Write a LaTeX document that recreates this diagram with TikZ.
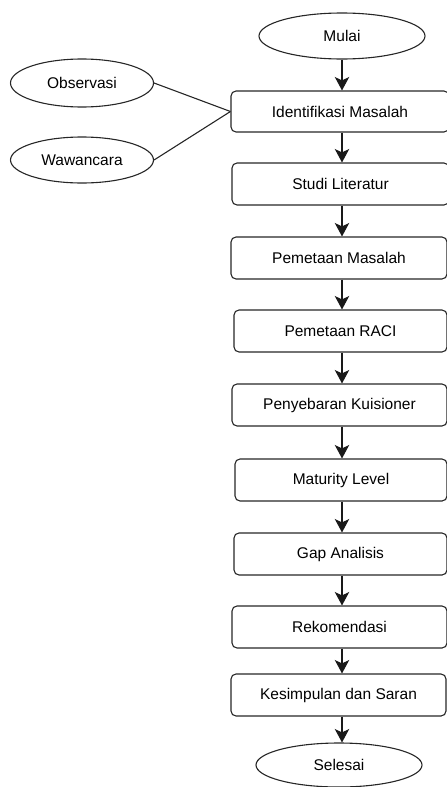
\documentclass[tikz,border=0pt]{standalone}
\usepackage{fontspec}
\setmainfont{Liberation Sans}
\usetikzlibrary{shapes.geometric,arrows.meta}
\begin{document}
\begin{tikzpicture}[x=1pt,y=-1pt,
  ln/.style={draw=black!85, line width=1.1pt},
  procbox/.style={ln, rectangle, rounded corners=5pt, inner sep=0pt, font=\fontsize{15.5}{18}\selectfont},
  term/.style={ln, ellipse, inner sep=0pt, font=\fontsize{15.5}{18}\selectfont},
  arr/.style={draw=black!90, line width=1.1pt, -{Stealth[length=13.5pt,width=14.5pt,inset=3.5pt]}},
  conn/.style={draw=black!85, line width=1.1pt}
]
\useasboundingbox (0,0) rectangle (447,787);
\coordinate (col) at (342,0);
\node[term, minimum width=166, minimum height=46] (mulai) at (342,36) {Mulai};
\node[procbox, minimum width=218, minimum height=41] (ident) at (340,111.5) {Identifikasi Masalah};
\node[procbox, minimum width=217, minimum height=42] (studi) at (340.5,184) {Studi Literatur};
\node[procbox, minimum width=216, minimum height=42] (pmas) at (339,258) {Pemetaan Masalah};
\node[procbox, minimum width=213, minimum height=42] (raci) at (340.5,331) {Pemetaan RACI};
\node[procbox, minimum width=215, minimum height=42] (peny) at (339.5,405) {Penyebaran Kuisioner};
\node[procbox, minimum width=212, minimum height=42] (mat) at (341,480) {Maturity Level};
\node[procbox, minimum width=213, minimum height=42] (gap) at (340.5,554) {Gap Analisis};
\node[procbox, minimum width=215, minimum height=42] (rek) at (339.5,627) {Rekomendasi};
\node[procbox, minimum width=215, minimum height=42] (kes) at (338.5,695) {Kesimpulan dan Saran};
\node[term, minimum width=166, minimum height=44] (sel) at (339,765) {Selesai};
\node[term, minimum width=143, minimum height=48] (obs) at (82,83) {Observasi};
\node[term, minimum width=143, minimum height=46] (waw) at (82,160) {Wawancara};
\draw[conn] (obs.east) -- (ident.west);
\draw[conn] (waw.east) -- (ident.west);
\draw[arr] (mulai.south -| col) -- (ident.north -| col);
\draw[arr] (ident.south -| col) -- (studi.north -| col);
\draw[arr] (studi.south -| col) -- (pmas.north -| col);
\draw[arr] (pmas.south -| col) -- (raci.north -| col);
\draw[arr] (raci.south -| col) -- (peny.north -| col);
\draw[arr] (peny.south -| col) -- (mat.north -| col);
\draw[arr] (mat.south -| col) -- (gap.north -| col);
\draw[arr] (gap.south -| col) -- (rek.north -| col);
\draw[arr] (rek.south -| col) -- (kes.north -| col);
\draw[arr] (kes.south -| col) -- (sel.north -| col);
\end{tikzpicture}
\end{document}
